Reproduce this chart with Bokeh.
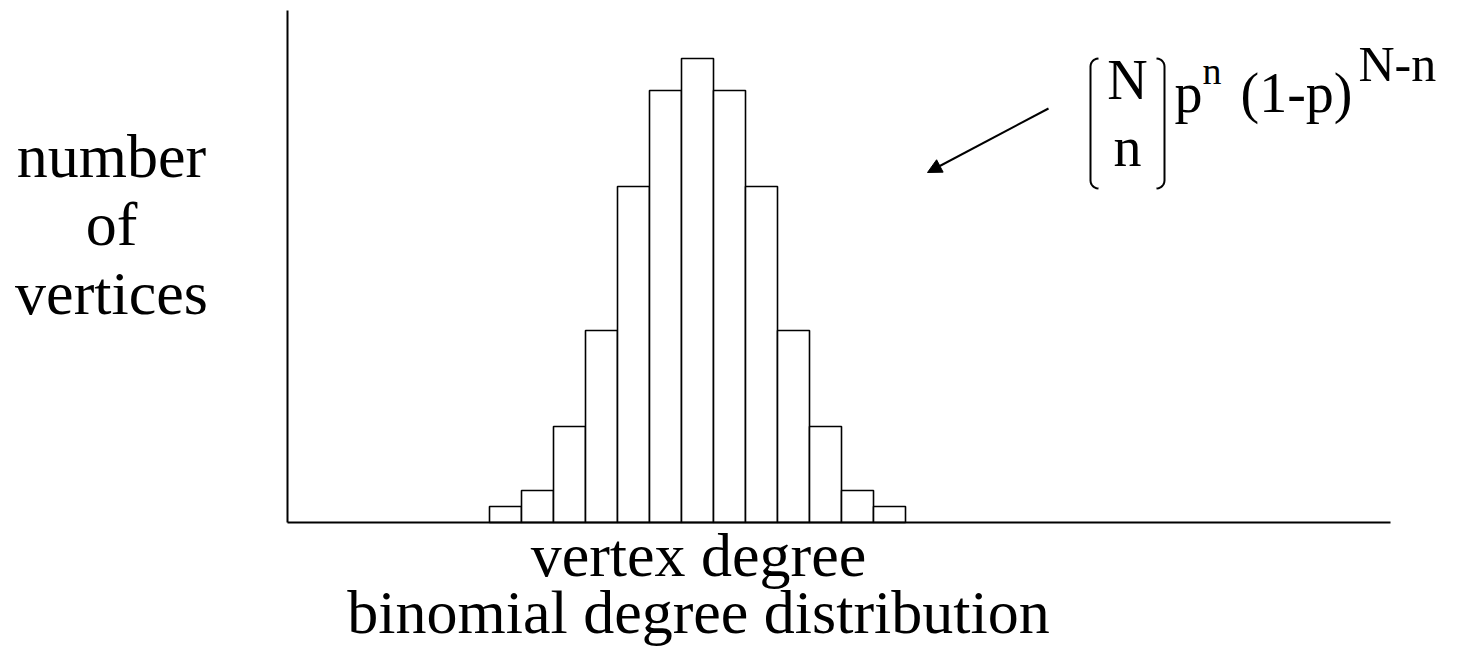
from bokeh.plotting import figure
from bokeh.models import Label, Arrow, NormalHead, PolyAnnotation, Range1d, FixedTicker
from bokeh.embed import file_html
from bokeh.resources import INLINE
import math

# ---- data ----
degrees = list(range(13))
counts = [1, 2, 6, 12, 21, 27, 29, 27, 21, 12, 6, 2, 1]
ylabel_lines = ["number", "of", "vertices"]
xlabel_lines = ["vertex degree", "binomial degree distribution"]

# ---- layout (canvas pixels) ----
W, H = 1451, 649
UX, UY = 32.0, 16.0                 # pixels per data unit
XS = -0.5 - 489 / UX                # data x at canvas left
XE = XS + W / UX
YS = -(H - 522) / UY                # data y at canvas bottom
YE = YS + H / UY

def dx(px):
    return XS + px / UX

def dy(py):
    return YS + (H - py) / UY

FONT = "Liberation Serif"

p = figure(width=W, height=H, x_range=Range1d(XS, XE), y_range=Range1d(YS, YE),
           min_border=0, toolbar_location=None, output_backend="svg",
           outline_line_color=None, background_fill_color="white",
           border_fill_color="white")
p.grid.visible = False
for ax in (p.xaxis, p.yaxis):
    ax.ticker = FixedTicker(ticks=[])
    ax.major_tick_line_color = None
    ax.minor_tick_line_color = None
    ax.major_tick_out = 0
    ax.major_tick_in = 0
    ax.minor_tick_out = 0
    ax.major_label_standoff = 0
    ax.major_label_text_font_size = "0px"
    ax.axis_line_width = 2
    ax.axis_line_color = "black"
p.yaxis.fixed_location = dx(287)
p.yaxis.bounds = (0, dy(10))
p.xaxis.fixed_location = 0
p.xaxis.bounds = (dx(287), dx(1390))

p.vbar(x=degrees, top=counts, bottom=0, width=1.0, fill_color="white",
       line_color="black", line_width=1.6)

def label(text, px, py, size, align="center"):
    p.add_layout(Label(x=dx(px), y=dy(py), text=text, text_font=FONT,
                       text_font_size=f"{size}px", text_align=align,
                       text_baseline="alphabetic", text_color="black"))

# y label (three lines)
for t, by in zip(ylabel_lines, [155, 223, 292]):
    label(t, 111, by, 62)
# x labels
for t, by in zip(xlabel_lines, [554, 611]):
    label(t, 698, by, 62)

# formula
label("N", 1127, 79, 56)
label("n", 1127, 146, 56)
label("p", 1174, 92, 56, "left")
label("n", 1202, 70, 38, "left")
label("(1-p)", 1240, 92, 56, "left")
label("N-n", 1358, 63, 50, "left")

def bracket(x, top, bottom, direction):
    r = 8
    pts = []
    for i in range(7):
        a = math.pi / 2 * i / 6
        pts.append((x + direction * r * (1 - math.sin(a)), top + r * (1 - math.cos(a))))
    for i in range(7):
        a = math.pi / 2 * i / 6
        pts.append((x + direction * r * (1 - math.cos(a)), bottom - r * (1 - math.sin(a))))
    path = pts + pts[-2::-1]
    p.add_layout(PolyAnnotation(xs=[dx(a) for a, b in path], ys=[dy(b) for a, b in path],
                                fill_alpha=0, line_color="black", line_alpha=1,
                                line_width=2))

bracket(1090, 58, 188, 1)
bracket(1164, 58, 188, -1)

p.add_layout(Arrow(end=NormalHead(size=14, fill_color="black", line_color="black"),
                   x_start=dx(1048), y_start=dy(108), x_end=dx(927), y_end=dy(172),
                   line_width=2, line_color="black"))

open("out.html", "w").write(file_html(p, INLINE))
